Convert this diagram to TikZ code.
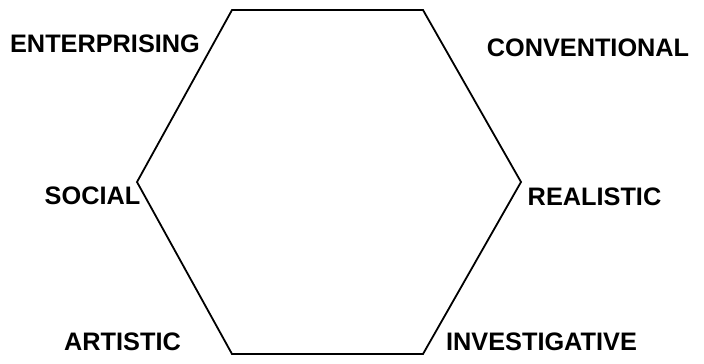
\documentclass[tikz,border=0pt]{standalone}
\usepackage{fontspec}
\setmainfont{Liberation Sans}
\tikzstyle{vx}=[coordinate]
\tikzstyle{lbl}=[inner sep=0, font=\bfseries\fontsize{25.3}{30}\selectfont]
\begin{document}
\begin{tikzpicture}[x=1pt, y=-1pt, line width=1.8pt]
\useasboundingbox (0,0) rectangle (704,364);
\node at (232,10)[vx](0){};
\node at (423,10)[vx](1){};
\node at (521,182)[vx](2){};
\node at (423,354)[vx](3){};
\node at (232,354)[vx](4){};
\node at (137,182)[vx](5){};
\draw[line join=miter] (0)--(1)--(2)--(3)--(4)--(5)--cycle;
\node at (105,44)[lbl](e){ENTERPRISING};
\node at (588,48)[lbl](c){CONVENTIONAL};
\node at (92.5,196)[lbl](s){SOCIAL};
\node at (594.5,197)[lbl](r){REALISTIC};
\node at (122.5,342)[lbl](a){ARTISTIC};
\node at (541.5,342)[lbl](i){INVESTIGATIVE};
\end{tikzpicture}
\end{document}
